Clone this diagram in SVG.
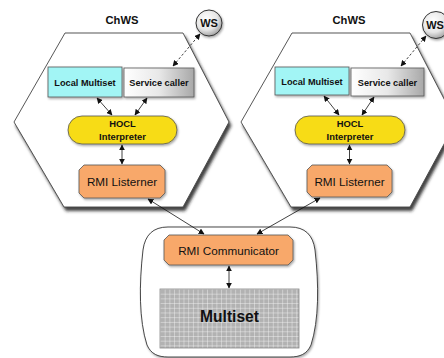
<svg xmlns="http://www.w3.org/2000/svg" width="444" height="358" viewBox="0 0 444 358">
<style>
.hex{fill:#fff;stroke:#444;stroke-width:0.9;filter:url(#sh)}
.t{font-family:"Liberation Sans",Arial,sans-serif;fill:#111;text-anchor:middle}
.b{font-weight:bold}
.lm{fill:#a2f5f5;stroke:#555;stroke-width:0.8;filter:url(#sh2)}
.sc{fill:url(#gsc);stroke:#555;stroke-width:0.8;filter:url(#sh2)}
.hocl{fill:#f7dc12;stroke:#555;stroke-width:0.8;filter:url(#sh2)}
.rmi{fill:#f8a86a;stroke:#555;stroke-width:0.8;filter:url(#sh2)}
.ws{fill:url(#gws);stroke:#333;stroke-width:1;filter:url(#sh2)}
.c{stroke:#111;stroke-width:0.8;fill:none;marker-start:url(#ah);marker-end:url(#ah)}
.d{stroke-dasharray:2.5,2}
</style>
<defs>
<filter id="sh" x="-10%" y="-10%" width="130%" height="130%"><feDropShadow dx="2" dy="3.5" stdDeviation="1.5" flood-color="#222" flood-opacity="0.85"/></filter>
<filter id="sh2" x="-10%" y="-10%" width="130%" height="130%"><feDropShadow dx="1" dy="1.5" stdDeviation="1" flood-color="#000" flood-opacity="0.35"/></filter>
<linearGradient id="gsc" x1="0" y1="0" x2="1" y2="0"><stop offset="0" stop-color="#ffffff"/><stop offset="0.5" stop-color="#e8e8e8"/><stop offset="1" stop-color="#a8a8a8"/></linearGradient>
<radialGradient id="gws" cx="0.4" cy="0.35" r="0.7"><stop offset="0" stop-color="#ffffff"/><stop offset="0.6" stop-color="#e6e6e6"/><stop offset="1" stop-color="#9a9a9a"/></radialGradient>
<pattern id="grid" width="4.7" height="4.7" patternUnits="userSpaceOnUse" x="160" y="289"><rect width="4.7" height="4.7" fill="#b2b2b2"/><path d="M0 0H4.7M0 0V4.7" stroke="#f8f8f8" stroke-width="0.8" fill="none"/></pattern>
<marker id="ah" viewBox="0 0 10 10" refX="9" refY="5" markerWidth="6" markerHeight="6" markerUnits="userSpaceOnUse" orient="auto-start-reverse"><path d="M0 0L10 5L0 10Z" fill="#111"/></marker>
</defs>

<g id="chws-left">
<polygon class="hex" points="65,33 183,33 229,122 183,207 64,207 14,122"/>
<text class="t b" x="122" y="24" font-size="11.2">ChWS</text>
</g>
<g id="chws-right">
<polygon class="hex" points="292,33 410,33 456,122 410,207 291,207 241,122"/>
<text class="t b" x="349" y="24" font-size="11.2">ChWS</text>
</g>

<g id="ws-left"><circle class="ws" cx="209" cy="23" r="13"/><text class="t b" x="209" y="27" font-size="11">WS</text></g>
<g id="ws-right"><circle class="ws" cx="436" cy="25" r="13.5"/><text class="t b" x="435" y="29" font-size="11">WS</text></g>

<g id="local-multiset-left"><rect class="lm" x="48" y="67" width="74" height="30"/><text class="t b" x="85" y="85.5" font-size="9.2">Local Multiset</text></g>
<g id="service-caller-left"><rect class="sc" x="124" y="68" width="70" height="29"/><text class="t b" x="159" y="86" font-size="9.2">Service caller</text></g>
<g id="hocl-left"><rect class="hocl" x="68" y="116" width="109" height="28" rx="14"/><text class="t b" x="122.5" y="127" font-size="9.4">HOCL</text><text class="t b" x="122.5" y="140" font-size="9.4">Interpreter</text></g>
<g id="rmi-listener-left"><polygon class="rmi" points="84,165 160,165 165,170 165,193 160,198 84,198 79,193 79,170"/><text class="t" x="122" y="186" font-size="11.7">RMI Listerner</text></g>

<g id="local-multiset-right"><rect class="lm" x="275" y="67" width="74" height="28"/><text class="t b" x="312" y="84.5" font-size="9.2">Local Multiset</text></g>
<g id="service-caller-right"><rect class="sc" x="351" y="68" width="73" height="28"/><text class="t b" x="387.5" y="86" font-size="9.2">Service caller</text></g>
<g id="hocl-right"><rect class="hocl" x="295" y="116" width="110" height="28" rx="14"/><text class="t b" x="350" y="127" font-size="9.4">HOCL</text><text class="t b" x="350" y="140" font-size="9.4">Interpreter</text></g>
<g id="rmi-listener-right"><polygon class="rmi" points="312,165 387,165 392,170 392,192 387,197 312,197 307,192 307,170"/><text class="t" x="349.5" y="185.5" font-size="11.7">RMI Listerner</text></g>

<g id="server">
<path d="M168 227H290C305 227 313 235 315 250C319 285 319 320 311 345C307 354 300 357 290 357H168C158 357 151 354 147 345C139 320 139 285 143 250C145 235 153 227 168 227Z" fill="#fff" stroke="#333" stroke-width="0.9" filter="url(#sh2)"/>
</g>
<g id="rmi-communicator"><polygon class="rmi" points="169,235 288,235 293,240 293,260 288,265 169,265 164,260 164,240"/><text class="t" x="228.5" y="255" font-size="11.7">RMI Communicator</text></g>
<g id="multiset"><rect x="160" y="289" width="139" height="59" fill="url(#grid)" stroke="#888" stroke-width="0.8"/><text class="t b" x="229.5" y="322" font-size="15.6">Multiset</text></g>

<g id="connectors">
<line class="c" x1="97" y1="98" x2="112" y2="115"/>
<line class="c" x1="147" y1="98" x2="135" y2="115"/>
<line class="c" x1="122" y1="145" x2="122" y2="164"/>
<line class="c d" x1="173" y1="66" x2="200" y2="34"/>
<line class="c" x1="324" y1="96" x2="339" y2="115"/>
<line class="c" x1="374" y1="97" x2="362" y2="115"/>
<line class="c" x1="349.5" y1="145" x2="349.5" y2="164"/>
<line class="c d" x1="401" y1="66" x2="426" y2="36"/>
<line class="c" x1="148" y1="199" x2="204" y2="234"/>
<line class="c" x1="320" y1="198" x2="257" y2="234"/>
<line class="c" x1="229" y1="266" x2="229" y2="288"/>
</g>
</svg>
